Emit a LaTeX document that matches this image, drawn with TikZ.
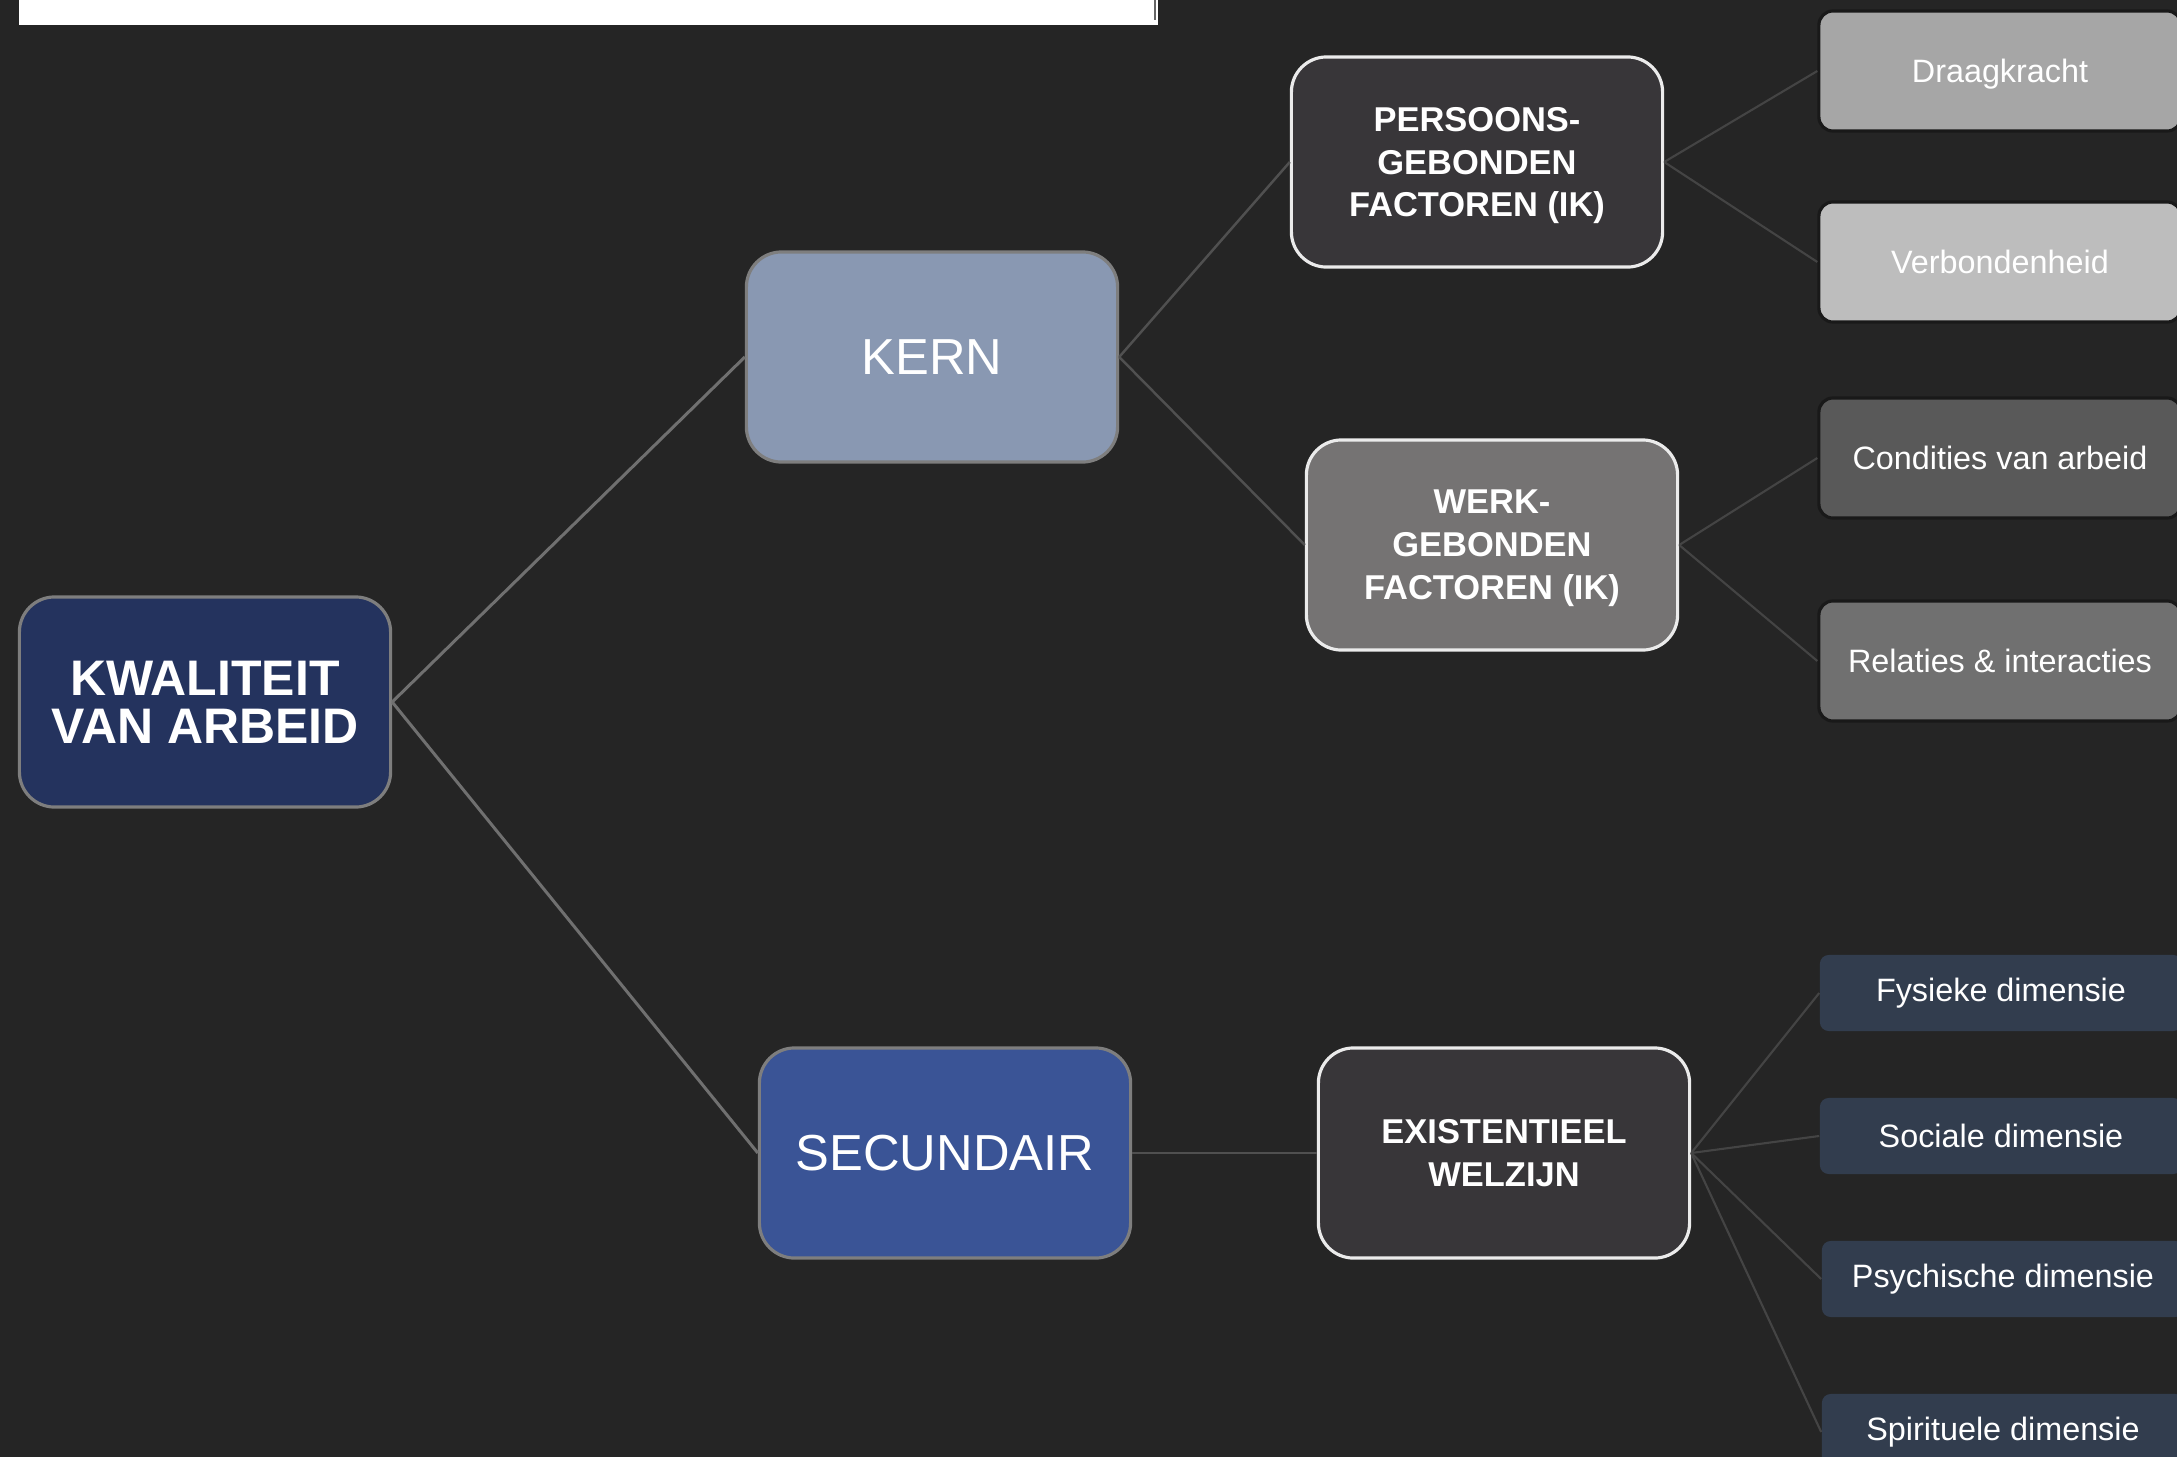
\documentclass[tikz,border=0pt]{standalone}
\usepackage{fontspec}
\setmainfont{Liberation Sans}
\definecolor{bgdark}{HTML}{252525}
\definecolor{navy}{HTML}{24335E}
\definecolor{kernblue}{HTML}{8998B2}
\definecolor{secblue}{HTML}{3A5496}
\definecolor{darkbox}{HTML}{383639}
\definecolor{werkgray}{HTML}{757373}
\definecolor{dimblue}{HTML}{323D4E}
\definecolor{rimgray}{HTML}{7E7E7E}
\definecolor{linegray}{HTML}{707070}
\definecolor{midline}{HTML}{505050}
\definecolor{twiggray}{HTML}{444444}

\begin{document}
\begin{tikzpicture}[x=0.01cm,y=-0.01cm,
    box/.style={rounded corners=10pt, minimum width=3.71cm, minimum height=2.1cm,
      inner sep=0pt, align=center, text=white, line width=0.9pt},
    main/.style={box, draw=rimgray},
    sub/.style={box, draw=white!92!black, text depth=0pt,
      font=\fontsize{9.8}{12.2}\selectfont\bfseries},
    leaf/.style={rounded corners=4pt, minimum width=3.62cm, minimum height=1.2cm,
      inner sep=0pt, draw=black!90, line width=0.9pt, text=white, text depth=0pt,
      font=\fontsize{9.2}{11}\selectfont},
    dim/.style={rounded corners=2.5pt, minimum width=3.62cm, minimum height=0.76cm,
      inner sep=0pt, fill=dimblue, text=white, font=\fontsize{9.2}{11}\selectfont}]
  \useasboundingbox (0,0) rectangle (2177,1457);
  \fill[bgdark] (0,0) rectangle (2177,1457);
  % white bar at the top
  \fill[white] (19,0) rectangle (1158,25);
  \draw[black!60, line width=0.6pt] (1155,0) -- (1155,20);

  \draw
    (205,702) node[main, fill=navy, font=\fontsize{14.2}{13.6}\selectfont\bfseries] (0) {KWALITEIT\\VAN ARBEID}
    (932,357) node[main, fill=kernblue, font=\fontsize{14.4}{17}\selectfont] (1) {KERN}
    (945,1153) node[main, fill=secblue, font=\fontsize{14.4}{17}\selectfont] (2) {SECUNDAIR}
    (1477,162) node[sub, fill=darkbox] (3) {PERSOONS-\\GEBONDEN\\FACTOREN (IK)}
    (1492,545) node[sub, fill=werkgray] (4) {WERK-\\GEBONDEN\\FACTOREN (IK)}
    (1504,1153) node[sub, fill=darkbox] (5) {EXISTENTIEEL\\WELZIJN}
    (2000,71) node[leaf, fill=black!35] (6) {Draagkracht}
    (2000,262) node[leaf, fill=black!26] (7) {Verbondenheid}
    (2000,458) node[leaf, fill=black!65] (8) {Condities van arbeid}
    (2000,661) node[leaf, fill=black!56] (9) {Relaties \& interacties}
    (2001,993) node[dim] (10) {Fysieke dimensie}
    (2001,1136) node[dim] (11) {Sociale dimensie}
    (2003,1279) node[dim] (12) {Psychische dimensie}
    (2003,1432) node[dim] (13) {Spirituele dimensie};
  \begin{scope}[linegray, line width=0.85pt]
    \draw (0.east) to (1.west);
    \draw (0.east) to (2.west);
  \end{scope}
  \begin{scope}[midline, line width=0.7pt]
    \draw (1.east) to (3.west);
    \draw (1.east) to (4.west);
    \draw (2.east) to (5.west);
  \end{scope}
  \begin{scope}[twiggray, line width=0.6pt]
    \draw (3.east) to (6.west);
    \draw (3.east) to (7.west);
    \draw (4.east) to (8.west);
    \draw (4.east) to (9.west);
    \draw (5.east) to (10.west);
    \draw (5.east) to (11.west);
    \draw (5.east) to (12.west);
    \draw (5.east) to (13.west);
  \end{scope}
\end{tikzpicture}
\end{document}
